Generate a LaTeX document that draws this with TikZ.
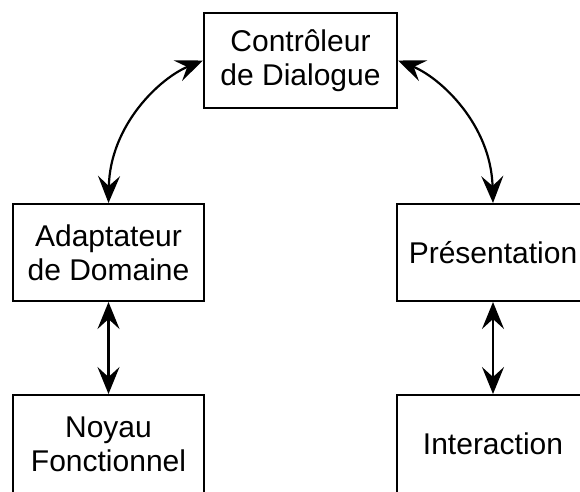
\documentclass[tikz,border=0pt]{standalone}
\usepackage{fontspec}
\setmainfont{Liberation Sans}
\usetikzlibrary{arrows.meta}
\tikzset{
  box/.style={draw=black, line width=2pt, fill=white, align=center, inner sep=0pt,
    font=\fontsize{30}{34}\selectfont},
  link/.style={line width=2.2pt, draw=black,
    {Stealth[length=27pt,width=22pt,inset=10pt]}-{Stealth[length=27pt,width=22pt,inset=10pt]}}
}
\begin{document}
\begin{tikzpicture}[x=1pt,y=-1pt]
\clip (0,0) rectangle (580,491);
\fill[white] (0,0) rectangle (580,491);
\node[box, minimum width=193pt, minimum height=95pt] (ctrl) at (300.5,60.5) {Contrôleur\\de Dialogue};
\node[box, minimum width=191pt, minimum height=97pt] (adapt) at (108.5,252.5) {Adaptateur\\de Domaine};
\node[box, minimum width=192pt, minimum height=97pt] (pres) at (493,252.5) {Présentation};
\node[box, minimum width=191pt, minimum height=98pt] (noyau) at (108.5,444) {Noyau\\Fonctionnel};
\node[box, minimum width=192pt, minimum height=98pt] (inter) at (493,444) {Interaction};
\draw[link] (adapt.north) .. controls (110,125) and (160,78) .. (ctrl.west);
\draw[link] (pres.north) .. controls (491,125) and (441,78) .. (ctrl.east);
\draw[link] (adapt.south) -- (noyau.north);
\draw[link] (pres.south) -- (inter.north);
\end{tikzpicture}
\end{document}
